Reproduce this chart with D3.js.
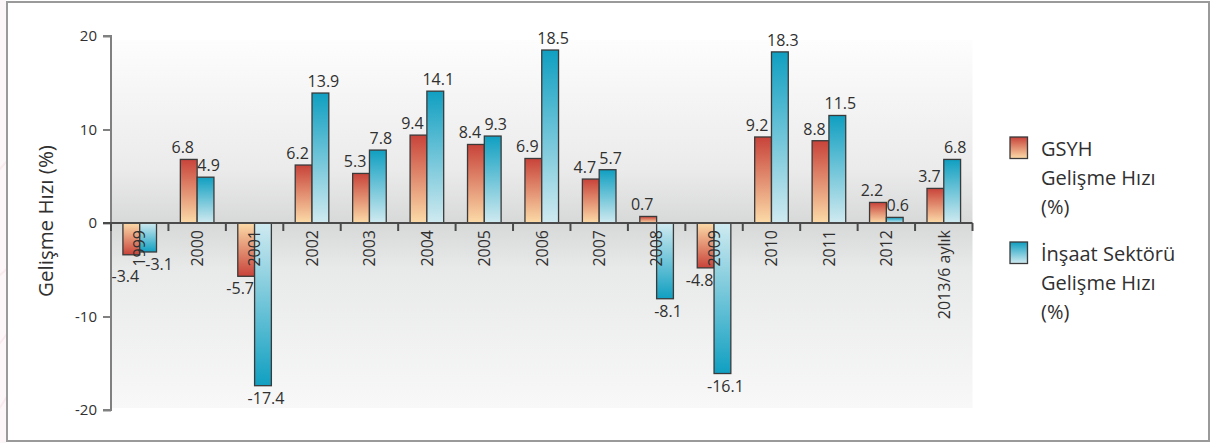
<!DOCTYPE html>
<html>
<head>
<meta charset="utf-8">
<script src="https://cdn.jsdelivr.net/npm/d3@7"></script>
<style>
  html, body { margin: 0; padding: 0; background: #ffffff; }
  svg { display: block; }
  text { font-family: "Open Sans", "DejaVu Sans", sans-serif; fill: #303030; }
</style>
</head>
<body>
<svg id="chart" width="1217" height="443"></svg>
<script>
// Yearly growth rates (%)
const categories = ["1999", "2000", "2001", "2002", "2003", "2004", "2005", "2006",
                    "2007", "2008", "2009", "2010", "2011", "2012", "2013/6 aylık"];
const gdpGrowth = [-3.4, 6.8, -5.7, 6.2, 5.3, 9.4, 8.4, 6.9, 4.7, 0.7, -4.8, 9.2, 8.8, 2.2, 3.7];
const constructionGrowth = [-3.1, 4.9, -17.4, 13.9, 7.8, 14.1, 9.3, 18.5, 5.7, -8.1, -16.1, 18.3, 11.5, 0.6, 6.8];
const yTicks = [-20, -10, 0, 10, 20];
const seriesNames = [
  ["GSYH", "Gelişme Hızı", "(%)"],
  ["İnşaat Sektörü", "Gelişme Hızı", "(%)"]
];

const svg = d3.select("#chart");
const defs = svg.append("defs");

// Colour ramps: light end sits on the zero line, dark end at the bar tip
function ramp(id, dark, light, reversed) {
  const g = defs.append("linearGradient").attr("id", id)
    .attr("x1", 0).attr("x2", 0).attr("y1", 0).attr("y2", 1);
  g.append("stop").attr("offset", "0%").attr("stop-color", reversed ? light : dark);
  g.append("stop").attr("offset", "100%").attr("stop-color", reversed ? dark : light);
}
const palette = [
  { dark: "#c8433a", light: "#fcdba8" },
  { dark: "#109fc1", light: "#d0eaf0" }
];
palette.forEach((p, i) => {
  ramp("pos" + i, p.dark, p.light, false);
  ramp("neg" + i, p.dark, p.light, true);
});

// Plot background: soft grey band around the zero line
const bg = defs.append("linearGradient").attr("id", "plotBg")
  .attr("x1", 0).attr("x2", 0).attr("y1", 0).attr("y2", 1);
[[0, "#fdfdfd"], [0.35, "#ebebeb"], [0.5, "#d7d8d8"], [0.62, "#e8e9e9"], [1, "#f8f8f8"]]
  .forEach(([o, c]) => bg.append("stop").attr("offset", o).attr("stop-color", c));

// Faint decorative swirls at the far left edge
const deco = svg.append("g").attr("opacity", 0.35);
[[-40, 300, 20, 250], [-40, 380, 25, 300], [-30, 440, 20, 360], [-40, 200, 18, 140]].forEach(([a, b, c, d]) => {
  deco.append("path")
    .attr("d", `M${a},${b} Q${(a + c) / 2 + 20},${(b + d) / 2} ${c},${d}`)
    .attr("fill", "none").attr("stroke", "#e7b8c6").attr("stroke-width", 2);
});
svg.append("rect").attr("x", 0).attr("y", 0).attr("width", 6).attr("height", 443)
  .attr("fill", "#fbeef2").attr("opacity", 0.5);

// Frame
svg.append("rect")
  .attr("x", 7).attr("y", 2).attr("width", 1202).attr("height", 439)
  .attr("fill", "#ffffff").attr("stroke", "#9a9a9a").attr("stroke-width", 2);

// Scales
const x0 = d3.scaleBand().domain(categories).range([111, 972.5]).paddingInner(0).paddingOuter(0);
const y = d3.scaleLinear().domain([-20, 20]).range([410, 36]);
const barW = 16.8;

svg.append("rect")
  .attr("x", x0.range()[0]).attr("y", 40)
  .attr("width", x0.range()[1] - x0.range()[0]).attr("height", 368)
  .attr("fill", "url(#plotBg)");

// Numbers use a plain hyphen for the minus sign
const num = d => String(d).replace("\u2212", "-");
const fmt1 = d => d.toFixed(1);

// Y axis
const yAxis = svg.append("g").attr("transform", "translate(111,0)")
  .call(d3.axisLeft(y).tickValues(yTicks).tickSize(8).tickPadding(6).tickFormat(num));
yAxis.select(".domain").attr("stroke", "#808080").attr("stroke-width", 2)
  .attr("d", `M-8,${y(20)}H0V${y(-20)}H-8`);
yAxis.selectAll(".tick line").attr("stroke", "#808080").attr("stroke-width", 2);
yAxis.selectAll(".tick text").attr("font-size", 15).attr("fill", "#303030")
  .attr("font-family", "'Open Sans', sans-serif");

// Axis title
svg.append("text")
  .attr("transform", `translate(53,${y(0) - 2}) rotate(-90)`)
  .attr("text-anchor", "middle")
  .attr("font-size", 20.5)
  .text("Gelişme Hızı (%)");

// Bars
const series = [gdpGrowth, constructionGrowth];
const barX = (i, s) => x0(categories[i]) + x0.bandwidth() / 2 - barW + s * barW;
const bars = svg.append("g");
series.forEach((vals, s) => {
  bars.selectAll(null).data(vals).enter().append("rect")
    .attr("x", (d, i) => barX(i, s))
    .attr("y", d => y(Math.max(0, d)))
    .attr("width", barW)
    .attr("height", d => Math.abs(y(d) - y(0)))
    .attr("fill", d => `url(#${d >= 0 ? "pos" : "neg"}${s})`)
    .attr("stroke", "#3a3a3a")
    .attr("stroke-width", 1.3);
});

// X axis along zero
const xAxis = svg.append("g").attr("transform", `translate(0,${y(0)})`);
xAxis.append("line")
  .attr("x1", 103).attr("x2", x0.range()[1])
  .attr("stroke", "#4a4a4a").attr("stroke-width", 2);
const bounds = [x0.range()[0]].concat(categories.map(c => x0(c) + x0.bandwidth()));
xAxis.selectAll(null).data(bounds).enter().append("line")
  .attr("x1", d => d).attr("x2", d => d).attr("y1", 0).attr("y2", 8)
  .attr("stroke", "#4a4a4a").attr("stroke-width", 2);

// Category labels, vertical
svg.append("g").selectAll("text").data(categories).enter().append("text")
  .attr("transform", d => `translate(${x0(d) + x0.bandwidth() / 2},${y(0) + 7}) rotate(-90)`)
  .attr("text-anchor", "end")
  .attr("dy", "0.36em")
  .attr("font-size", 16)
  .text(d => d);

// Value labels: above positive bars, below negative ones; when the two
// labels of a negative pair would collide, they are spread apart
const nudge = [-6, 3];
const labelY = (d) => d >= 0 ? y(d) - 6 : y(d) + 18;
const clash = (i) => {
  const a = gdpGrowth[i], b = constructionGrowth[i];
  return a < 0 && b < 0 && Math.abs(labelY(a) - labelY(b)) < 14;
};
series.forEach((vals, s) => {
  svg.append("g").selectAll("text").data(vals).enter().append("text")
    .attr("x", (d, i) => barX(i, s) + barW / 2 + nudge[s] + (clash(i) && s === 1 ? 8 : 0))
    .attr("y", (d, i) => {
      let ly = labelY(d);
      if (clash(i) && d < series[1 - s][i]) ly += 9;
      return ly;
    })
    .attr("text-anchor", "middle")
    .attr("font-size", 16)
    .text(d => fmt1(d));
});

// Legend
const legend = svg.append("g");
const legendTop = [137, 242];
seriesNames.forEach((lines, s) => {
  legend.append("rect")
    .attr("x", 1010).attr("y", legendTop[s]).attr("width", 17.5).attr("height", 21.5)
    .attr("fill", `url(#pos${s})`).attr("stroke", "#3a3a3a").attr("stroke-width", 1.3);
  lines.forEach((t, k) => {
    legend.append("text")
      .attr("x", 1041).attr("y", legendTop[s] + 19 + k * 29)
      .attr("font-size", 20)
      .text(t);
  });
});
</script>
</body>
</html>
